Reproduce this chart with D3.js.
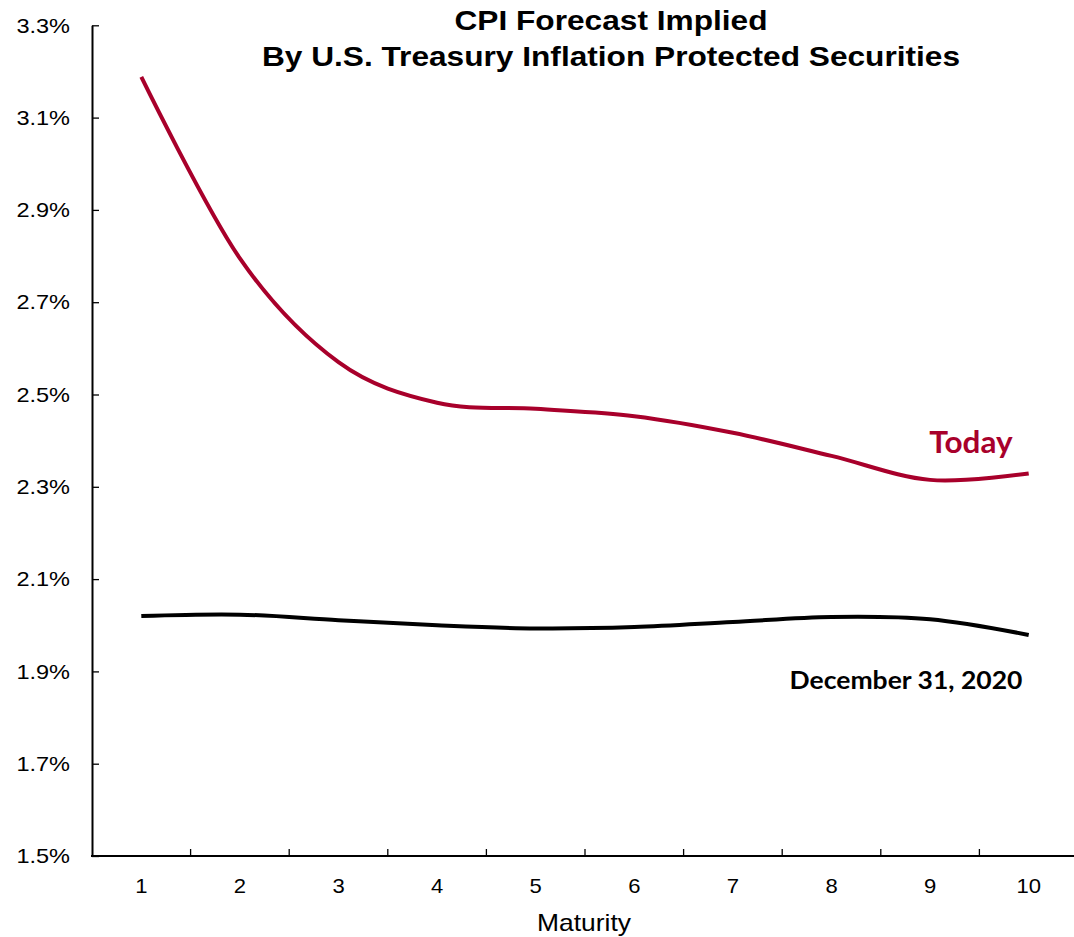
<!DOCTYPE html>
<html>
<head>
<meta charset="utf-8">
<script src="https://cdn.jsdelivr.net/npm/d3@7"></script>
<style>
  html, body { margin: 0; padding: 0; background: #ffffff; }
  svg { display: block; }
</style>
</head>
<body>
<svg id="chart" width="1074" height="937"></svg>
<script>
// ---- data ----
const maturities = ["1", "2", "3", "4", "5", "6", "7", "8", "9", "10"];
const todayValues = [3.188, 2.795, 2.570, 2.482, 2.469, 2.453, 2.417, 2.367, 2.315, 2.329];
const dec2020Values = [2.020, 2.023, 2.011, 2.000, 1.993, 1.996, 2.007, 2.018, 2.013, 1.979];
const yTicks = [1.5, 1.7, 1.9, 2.1, 2.3, 2.5, 2.7, 2.9, 3.1, 3.3];
const titleLines = ["CPI Forecast Implied", "By U.S. Treasury Inflation Protected Securities"];
const xTitle = "Maturity";
const todayLabel = "Today";
const decLabel = "December 31, 2020";

(function () {
// ---- layout ----
const svg = d3.select("#chart");
const pLeft = 92, pRight = 1078, pTop = 25.3, pBottom = 856;
const red = "#a8002b";

// widen text horizontally (reference text is slightly stretched)
function stretch(sel, factor) {
  sel.each(function () {
    const len = this.getComputedTextLength();
    d3.select(this)
      .attr("textLength", len * factor)
      .attr("lengthAdjust", "spacingAndGlyphs");
  });
}

const x = d3.scaleBand().domain(maturities).range([pLeft, pRight]).padding(0);
const y = d3.scaleLinear().domain([1.5, 3.3]).range([pBottom, pTop]);

// Y axis
const yAxis = d3.axisLeft(y)
  .tickValues(yTicks)
  .tickFormat(d => d.toFixed(1) + "%")
  .tickSizeInner(-7)
  .tickSizeOuter(0)
  .tickPadding(22);
const gy = svg.append("g").attr("transform", `translate(${pLeft},0)`).call(yAxis);
gy.select(".domain").attr("stroke", "#000").attr("stroke-width", 2);
gy.selectAll(".tick line").attr("stroke", "#000").attr("stroke-width", 1.3);
gy.selectAll(".tick text")
  .attr("fill", "#000")
  .style("font-family", "'Liberation Sans', Arial, sans-serif")
  .style("font-size", "21px")
  .call(stretch, 1.12);

// X axis: labels at band centres
const xAxis = d3.axisBottom(x).tickSize(0).tickPadding(22);
const gx = svg.append("g").attr("transform", `translate(0,${pBottom})`).call(xAxis);
gx.select(".domain").remove();
gx.selectAll(".tick text")
  .attr("fill", "#000")
  .style("font-family", "'Liberation Sans', Arial, sans-serif")
  .style("font-size", "21px")
  .call(stretch, 1.05);

// X axis line and boundary ticks
svg.append("line")
  .attr("x1", pLeft - 1).attr("x2", pRight)
  .attr("y1", pBottom).attr("y2", pBottom)
  .attr("stroke", "#000").attr("stroke-width", 2);
svg.append("g").selectAll("line")
  .data(maturities.slice(1))
  .join("line")
  .attr("x1", d => x(d)).attr("x2", d => x(d))
  .attr("y1", pBottom).attr("y2", pBottom - 7)
  .attr("stroke", "#000").attr("stroke-width", 1.3);

// X axis title
svg.append("text")
  .attr("x", 584)
  .attr("y", 931)
  .attr("text-anchor", "middle")
  .style("font-family", "'Liberation Sans', Arial, sans-serif")
  .style("font-size", "24px")
  .attr("fill", "#000")
  .text(xTitle)
  .call(stretch, 1.1);

// Title
svg.append("g").selectAll("text")
  .data(titleLines)
  .join("text")
  .attr("text-anchor", "middle")
  .style("font-family", "'Liberation Sans', Arial, sans-serif")
  .style("font-weight", "bold")
  .style("font-size", "28px")
  .attr("fill", "#000")
  .attr("x", 611)
  .attr("y", (d, i) => 30 + i * 36)
  .text(d => d)
  .call(stretch, 1.13);

// Lines
const line = d3.line()
  .x((d, i) => x(maturities[i]) + x.bandwidth() / 2)
  .y(d => y(d))
  .curve(d3.curveCardinal.tension(0));

svg.append("path")
  .datum(dec2020Values)
  .attr("fill", "none")
  .attr("stroke", "#000")
  .attr("stroke-width", 4)
  .attr("d", line);

svg.append("path")
  .datum(todayValues)
  .attr("fill", "none")
  .attr("stroke", red)
  .attr("stroke-width", 4)
  .attr("d", line);

// Series labels
svg.append("text")
  .attr("x", 971).attr("y", 453)
  .attr("text-anchor", "middle")
  .style("font-family", "Lato, 'Noto Sans', sans-serif")
  .style("font-weight", "bold")
  .style("font-size", "30px")
  .attr("fill", red)
  .text(todayLabel)
  .call(stretch, 1.05);

svg.append("text")
  .attr("x", 906).attr("y", 689)
  .attr("text-anchor", "middle")
  .style("font-family", "Lato, 'Noto Sans', sans-serif")
  .style("font-weight", "bold")
  .style("font-size", "25px")
  .attr("fill", "#000")
  .text(decLabel)
  .call(stretch, 1.06);
})();
</script>
</body>
</html>
